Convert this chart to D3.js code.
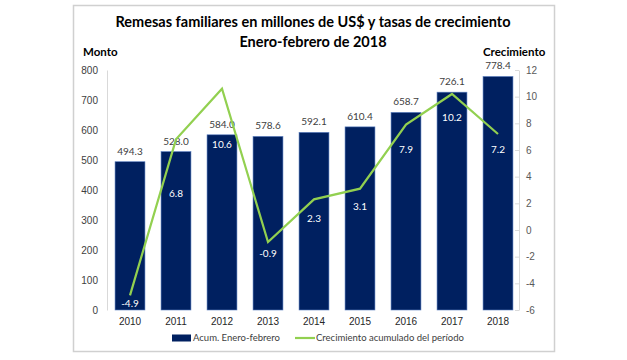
<!DOCTYPE html>
<html>
<head>
<meta charset="utf-8">
<script src="https://cdn.jsdelivr.net/npm/d3@7"></script>
<style>
  body { margin: 0; background: #fff; }
  svg { display: block; font-family: Lato, "Open Sans", sans-serif; }
</style>
</head>
<body>
<svg id="chart" width="627" height="360"></svg>
<script>
  //============================================================
  // Data
  //------------------------------------------------------------
  var years = ['2010', '2011', '2012', '2013', '2014', '2015', '2016', '2017', '2018'];
  var montos = [494.3, 528.0, 584.0, 578.6, 592.1, 610.4, 658.7, 726.1, 778.4];
  var crecimiento = [-4.9, 6.8, 10.6, -0.9, 2.3, 3.1, 7.9, 10.2, 7.2];
  var leftTicks = [0, 100, 200, 300, 400, 500, 600, 700, 800];
  var rightTicks = [-6, -4, -2, 0, 2, 4, 6, 8, 10, 12];

  // label nudges (px below the line point), as dragged in the original
  var growthLabelDy = [8, 54, 56, 11, 19, 18, 25, 23, 15];

  //============================================================
  // Layout
  //------------------------------------------------------------
  var margin = {top: 70, right: 106, bottom: 50, left: 107}
    , width = 627 - margin.left - margin.right
    , height = 360 - margin.top - margin.bottom
    , barColor = '#002060'
    , lineColor = '#92d050'
    , axisColor = '#d9d9d9'
    , tickText = '#595959'
    , fmtInt = function (d) { return String(d); }   // plain hyphen minus
    ;

  var svg = d3.select('#chart');

  // frame
  svg.append('rect')
      .attr('x', 73.5).attr('y', 5.5)
      .attr('width', 481).attr('height', 346)
      .attr('fill', '#fff')
      .attr('stroke', '#d0d0d0')
      .attr('stroke-width', 1.5);

  var x = d3.scaleBand().domain(years).range([0, width]).paddingInner(0.35).paddingOuter(0.175);
  var y = d3.scaleLinear().domain([0, 800]).range([height, 0]);
  var y2 = d3.scaleLinear().domain([-6, 12]).range([height, 0]);

  var g = svg.append('g').attr('transform', 'translate(' + margin.left + ',' + margin.top + ')');

  // axes
  var yAxis = g.append('g')
      .call(d3.axisLeft(y).tickValues(leftTicks).tickFormat(fmtInt).tickSize(0).tickPadding(9));
  var y2Axis = g.append('g')
      .attr('transform', 'translate(' + (width - 2) + ',0)')
      .call(d3.axisRight(y2).tickValues(rightTicks).tickFormat(fmtInt).tickSize(0).tickPadding(7));
  var xAxis = g.append('g')
      .attr('transform', 'translate(0,' + height + ')')
      .call(d3.axisBottom(x).tickSize(0).tickPadding(8));

  [yAxis, y2Axis, xAxis].forEach(function (a) {
    a.select('.domain').attr('stroke', axisColor);
    a.selectAll('text').attr('fill', tickText).style('font-size', '10px');
  });
  xAxis.select('.domain').remove();
  yAxis.selectAll('.tick text').attr('fill', '#404040');
  xAxis.selectAll('.tick text').attr('fill', '#262626');

  // small ticks on the right axis
  y2Axis.selectAll('.tick').append('line')
      .attr('x1', -4).attr('x2', 0)
      .attr('stroke', axisColor);

  // bars
  g.selectAll('.bar')
      .data(montos)
    .enter().append('rect')
      .attr('class', 'bar')
      .attr('x', function (d, i) { return x(years[i]); })
      .attr('y', function (d) { return y(d); })
      .attr('width', x.bandwidth())
      .attr('height', function (d) { return height - y(d); })
      .attr('fill', barColor)
      .attr('stroke', '#5b7fc0')
      .attr('stroke-width', 0.6);

  g.selectAll('.bar-label')
      .data(montos)
    .enter().append('text')
      .attr('class', 'bar-label')
      .attr('x', function (d, i) { return x(years[i]) + x.bandwidth() / 2; })
      .attr('y', function (d) { return y(d) - 7; })
      .attr('text-anchor', 'middle')
      .attr('fill', '#404040')
      .style('font-size', '10px')
      .text(function (d) { return d.toFixed(1); });

  // line
  var line = d3.line()
      .x(function (d, i) { return x(years[i]) + x.bandwidth() / 2; })
      .y(function (d) { return y2(d); });

  g.append('path')
      .datum(crecimiento)
      .attr('d', line)
      .attr('fill', 'none')
      .attr('stroke', lineColor)
      .attr('stroke-width', 2.2)
      .attr('stroke-linejoin', 'miter');

  g.selectAll('.growth-label')
      .data(crecimiento)
    .enter().append('text')
      .attr('class', 'growth-label')
      .attr('x', function (d, i) { return x(years[i]) + x.bandwidth() / 2; })
      .attr('y', function (d, i) { return y2(d) + growthLabelDy[i]; })
      .attr('dy', '0.35em')
      .attr('text-anchor', 'middle')
      .attr('fill', '#fff')
      .style('font-size', '10px')
      .text(function (d) { return d.toFixed(1); });

  // titles
  svg.append('text')
      .attr('x', 313).attr('y', 27)
      .attr('text-anchor', 'middle')
      .style('font-size', '14.5px').style('font-weight', 'bold')
      .attr('fill', '#000')
      .text('Remesas familiares en millones de US$ y tasas de crecimiento');
  svg.append('text')
      .attr('x', 313).attr('y', 47)
      .attr('text-anchor', 'middle')
      .style('font-size', '14.5px').style('font-weight', 'bold')
      .attr('fill', '#000')
      .text('Enero-febrero de 2018');
  svg.append('text')
      .attr('x', 83).attr('y', 56)
      .style('font-size', '11.5px').style('font-weight', 'bold')
      .text('Monto');
  svg.append('text')
      .attr('x', 483).attr('y', 56)
      .style('font-size', '11.5px').style('font-weight', 'bold')
      .text('Crecimiento');

  // legend
  var legend = svg.append('g').attr('transform', 'translate(0,338)');
  legend.append('rect')
      .attr('x', 172).attr('y', -3.5)
      .attr('width', 19).attr('height', 7)
      .attr('fill', barColor);
  legend.append('text')
      .attr('x', 193).attr('dy', '0.35em')
      .attr('fill', '#404040')
      .style('font-size', '9.5px')
      .text('Acum. Enero-febrero');
  legend.append('line')
      .attr('x1', 295).attr('x2', 315)
      .attr('stroke', lineColor).attr('stroke-width', 2.2);
  legend.append('text')
      .attr('x', 316).attr('dy', '0.35em')
      .attr('fill', '#404040')
      .style('font-size', '9.5px')
      .text('Crecimiento acumulado del período');
</script>
</body>
</html>
